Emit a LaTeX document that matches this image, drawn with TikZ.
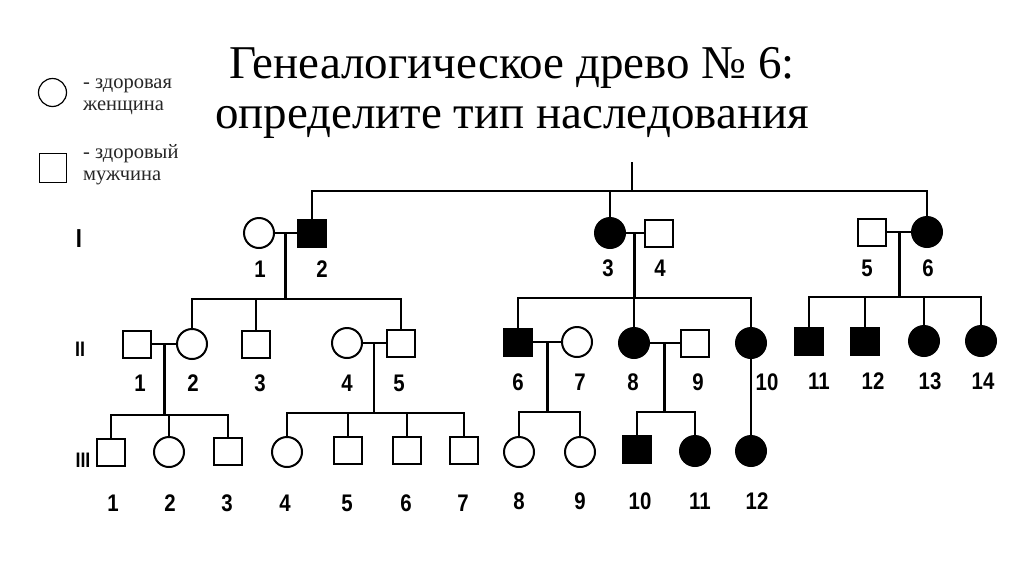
\documentclass[tikz,border=0pt]{standalone}
\usepackage{fontspec}
\setmainfont{Liberation Serif}
\newfontfamily\numfont[FakeStretch=0.85]{Liberation Sans Bold}
\usetikzlibrary{calc}
\begin{document}
\begin{tikzpicture}[x=1pt,y=-1pt,
  person/.style={draw=black, line width=2pt, inner sep=0pt, fill=white},
  male/.style={person, rectangle, minimum width=28pt, minimum height=27pt},
  female/.style={person, circle, minimum size=30pt},
  aff/.style={fill=black},
  link/.style={line width=2.2pt, line join=miter},
  num/.style={font=\numfont\fontsize{24}{24}\selectfont, inner sep=0pt, anchor=base},
  gen/.style={font=\numfont\fontsize{24}{24}\selectfont, inner sep=0pt, anchor=base},
  title/.style={font=\fontsize{47}{47}\selectfont, inner sep=0pt, anchor=base},
  legtext/.style={font=\fontsize{20.5}{20.5}\selectfont, text=black!85, anchor=base west, inner sep=0pt}
]
\useasboundingbox[fill=white] (0,0) rectangle (1024,576);

% title
\node[title] (t1) at (512,78) {Генеалогическое древо № 6:};
\node[title] (t2) at (512,128) {определите тип наследования};

% legend
\node[person, circle, minimum size=28pt, line width=1.2pt] (lf) at (52.5,92.5) {};
\node[person, rectangle, minimum width=27pt, minimum height=29pt, line width=1.2pt] (lm) at (53,168) {};
\node[legtext] (lf1) at (83,88) {- здоровая};
\node[legtext] (lf2) at (83,110) {женщина};
\node[legtext] (lm1) at (83,158) {- здоровый};
\node[legtext] (lm2) at (83,180) {мужчина};

% generation labels
\node[gen, font=\numfont\fontsize{26}{26}\selectfont] (g1) at (79,247) {I};
\node[gen, font=\numfont\fontsize{21}{21}\selectfont] (g2) at (80,356) {II};
\node[gen, font=\numfont\fontsize{21}{21}\selectfont] (g3) at (83,467) {III};

% ---------- generation I ----------
\node[female] (i1) at (259,233) {};
\node[male, aff] (i2) at (312,233) {};
\node[female, aff] (i3) at (610,233) {};
\node[male] (i4) at (659,233) {};
\node[male] (i5) at (872,232) {};
\node[female, aff] (i6) at (927,232) {};

% ---------- generation II ----------
\node[male] (ii1) at (137,344) {};
\node[female] (ii2) at (192,344) {};
\node[male] (ii3) at (256,344) {};
\node[female] (ii4) at (347,343) {};
\node[male] (ii5) at (401,343) {};
\node[male, aff] (ii6) at (518,342) {};
\node[female] (ii7) at (577,342) {};
\node[female, aff] (ii8) at (634,343) {};
\node[male] (ii9) at (695,343) {};
\node[female, aff] (ii10) at (751,343) {};
\node[male, aff] (ii11) at (809,341) {};
\node[male, aff] (ii12) at (865,341) {};
\node[female, aff] (ii13) at (924,341) {};
\node[female, aff] (ii14) at (981,341) {};

% ---------- generation III ----------
\node[male] (iii1) at (111,452) {};
\node[female] (iii2) at (169,452) {};
\node[male] (iii3) at (228,451) {};
\node[female] (iii4) at (287,452) {};
\node[male] (iii5) at (348,450) {};
\node[male] (iii6) at (407,450) {};
\node[male] (iii7) at (464,450) {};
\node[female] (iii8) at (519,452) {};
\node[female] (iii9) at (580,452) {};
\node[male, aff] (iii10) at (637,449) {};
\node[female, aff] (iii11) at (695,451) {};
\node[female, aff] (iii12) at (751,451) {};

% ---------- numbers ----------
\node[num] (n-i1) at (260,277) {1};
\node[num] (n-i2) at (322,277) {2};
\node[num] (n-i3) at (608,276) {3};
\node[num] (n-i4) at (660,276) {4};
\node[num] (n-i5) at (867,276) {5};
\node[num] (n-i6) at (928,276) {6};

\node[num] (n-ii1) at (140,391) {1};
\node[num] (n-ii2) at (193,391) {2};
\node[num] (n-ii3) at (260,391) {3};
\node[num] (n-ii4) at (347,391) {4};
\node[num] (n-ii5) at (399,391) {5};
\node[num] (n-ii6) at (518,390) {6};
\node[num] (n-ii7) at (580,390) {7};
\node[num] (n-ii8) at (633,390) {8};
\node[num] (n-ii9) at (698,390) {9};
\node[num] (n-ii10) at (767,390) {10};
\node[num] (n-ii11) at (819,389) {11};
\node[num] (n-ii12) at (873,389) {12};
\node[num] (n-ii13) at (930,389) {13};
\node[num] (n-ii14) at (983,389) {14};

\node[num] (n-iii1) at (113,511) {1};
\node[num] (n-iii2) at (170,511) {2};
\node[num] (n-iii3) at (227,511) {3};
\node[num] (n-iii4) at (285,511) {4};
\node[num] (n-iii5) at (347,511) {5};
\node[num] (n-iii6) at (406,511) {6};
\node[num] (n-iii7) at (463,511) {7};
\node[num] (n-iii8) at (519,509) {8};
\node[num] (n-iii9) at (580,509) {9};
\node[num] (n-iii10) at (640,509) {10};
\node[num] (n-iii11) at (700,509) {11};
\node[num] (n-iii12) at (757,509) {12};

% ---------- connectors ----------
\coordinate (top) at (632,162);
\coordinate (topbar) at (632,191);
\draw[link] (top) -- (topbar);
\draw[link] (i2.north) -- (i2.north |- topbar) -- (i6.north |- topbar) -- (i6.north);
\draw[link] (i3.north) -- (i3.north |- topbar);

% couples
\draw[link] (i1) -- (i2);
\draw[link] (i3) -- (i4);
\draw[link] (i5) -- (i6);
\draw[link] (ii1) -- (ii2);
\draw[link] (ii4) -- (ii5);
\draw[link] (ii6) -- (ii7);
\draw[link] (ii8) -- (ii9);

% family I-1 x I-2
\coordinate (c12) at ($(i1)!0.5!(i2)$);
\coordinate (s12) at (0,299);
\draw[link] (c12) -- (c12 |- s12);
\draw[link] (ii2.north) -- (ii2.north |- s12) -- (ii5.north |- s12) -- (ii5.north);
\draw[link] (ii3.north) -- (ii3.north |- s12);

% family I-3 x I-4
\coordinate (c34) at ($(i3)!0.5!(i4)$);
\coordinate (s34) at (0,298);
\draw[link] (c34) -- (c34 |- s34);
\draw[link] (ii6.north) -- (ii6.north |- s34) -- (ii10.north |- s34) -- (ii10.north);
\draw[link] (ii8.north) -- (ii8.north |- s34);

% family I-5 x I-6
\coordinate (c56) at ($(i5)!0.5!(i6)$);
\coordinate (s56) at (0,297);
\draw[link] (c56) -- (c56 |- s56);
\draw[link] (ii11.north) -- (ii11.north |- s56) -- (ii14.north |- s56) -- (ii14.north);
\draw[link] (ii12.north) -- (ii12.north |- s56);
\draw[link] (ii13.north) -- (ii13.north |- s56);

% family II-1 x II-2
\coordinate (c1-2) at ($(ii1)!0.5!(ii2)$);
\coordinate (s1-2) at (0,415);
\draw[link] (c1-2) -- (c1-2 |- s1-2);
\draw[link] (iii1.north) -- (iii1.north |- s1-2) -- (iii3.north |- s1-2) -- (iii3.north);
\draw[link] (iii2.north) -- (iii2.north |- s1-2);

% family II-4 x II-5
\coordinate (c4-5) at ($(ii4)!0.5!(ii5)$);
\coordinate (s4-5) at (0,413);
\draw[link] (c4-5) -- (c4-5 |- s4-5);
\draw[link] (iii4.north) -- (iii4.north |- s4-5) -- (iii7.north |- s4-5) -- (iii7.north);
\draw[link] (iii5.north) -- (iii5.north |- s4-5);
\draw[link] (iii6.north) -- (iii6.north |- s4-5);

% family II-6 x II-7
\coordinate (c6-7) at ($(ii6)!0.5!(ii7)$);
\coordinate (s6-7) at (0,412);
\draw[link] (c6-7) -- (c6-7 |- s6-7);
\draw[link] (iii8.north) -- (iii8.north |- s6-7) -- (iii9.north |- s6-7) -- (iii9.north);

% family II-8 x II-9
\coordinate (c8-9) at ($(ii8)!0.5!(ii9)$);
\coordinate (s8-9) at (0,412);
\draw[link] (c8-9) -- (c8-9 |- s8-9);
\draw[link] (iii10.north) -- (iii10.north |- s8-9) -- (iii11.north |- s8-9) -- (iii11.north);

% II-10 -> III-12
\draw[link] (ii10) -- (iii12);
\end{tikzpicture}
\end{document}
